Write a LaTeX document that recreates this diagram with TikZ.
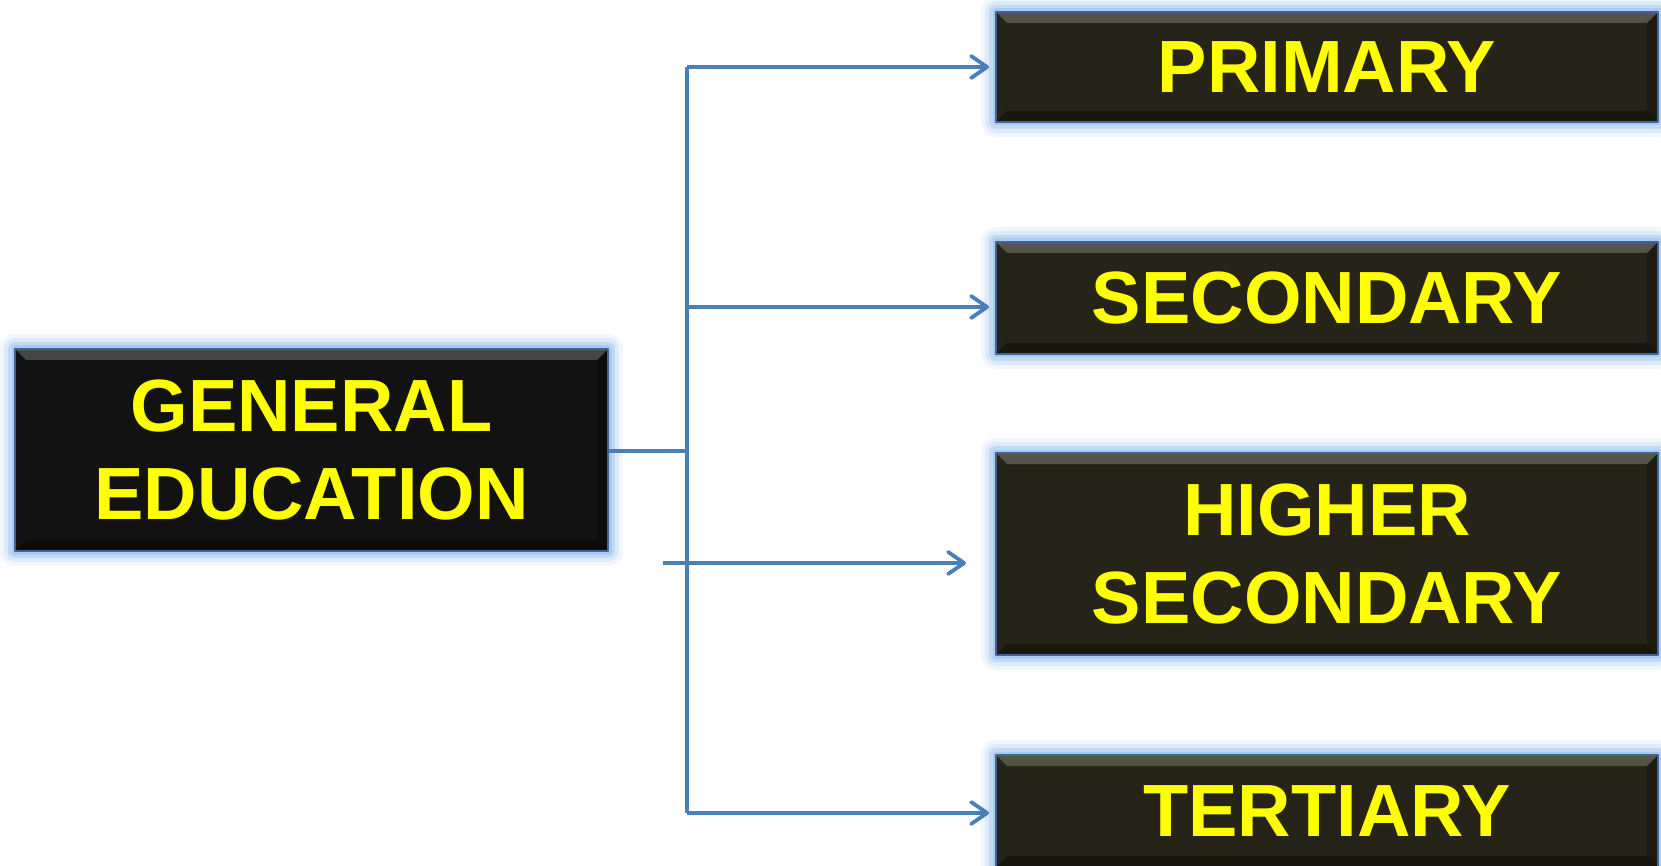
\documentclass[tikz,border=0pt]{standalone}
\usepackage{fontspec}
\setmainfont{Liberation Sans}
\usetikzlibrary{positioning,arrows.meta,calc}
\definecolor{edBlue}{RGB}{74,126,187}
\definecolor{edEdge}{RGB}{65,100,150}
\definecolor{edGlow}{RGB}{160,196,240}
\definecolor{edYellow}{RGB}{255,255,0}
\definecolor{edOlive}{RGB}{38,36,24}
\definecolor{edOliveLt}{RGB}{88,86,72}
\definecolor{edBlack}{RGB}{18,18,18}
\definecolor{edBlackLt}{RGB}{72,72,72}
\tikzset{
    base/.style={font=\bfseries\fontsize{37}{44}\selectfont, align=center, text=edYellow},
    glow/.style={line join=round,
                 preaction={draw=edGlow, line width=15pt, opacity=0.15},
                 preaction={draw=edGlow, line width=11pt, opacity=0.25},
                 preaction={draw=edGlow, line width=7pt, opacity=0.45},
                 preaction={draw=edGlow, line width=3.5pt, opacity=0.7}},
    slab/.style 2 args={base, glow, rectangle, draw=edEdge, line width=1pt, fill=#1,
                 inner sep=0pt, minimum width=331pt,
                 path picture={
                   \shade[top color=#2, bottom color=#1]
                     (path picture bounding box.north west) -- (path picture bounding box.north east)
                     -- ($(path picture bounding box.north east)+(-5.5pt,-5.5pt)$)
                     -- ($(path picture bounding box.north west)+(5.5pt,-5.5pt)$) -- cycle;
                   \fill[black, opacity=0.35]
                     (path picture bounding box.south west) -- (path picture bounding box.south east)
                     -- ($(path picture bounding box.south east)+(-5.5pt,5.5pt)$)
                     -- ($(path picture bounding box.south west)+(5.5pt,5.5pt)$) -- cycle;
                   \fill[black, opacity=0.25]
                     (path picture bounding box.north east) -- (path picture bounding box.south east)
                     -- ($(path picture bounding box.south east)+(-5.5pt,5.5pt)$)
                     -- ($(path picture bounding box.north east)+(-5.5pt,-5.5pt)$) -- cycle;
                 }},
    level/.style={slab={edOlive}{edOliveLt}},
    link/.style={draw=edBlue, line width=1.9pt},
    flow/.style={link, -{Straight Barb[round, length=8pt, width=11pt]}}
}
\begin{document}
\begin{tikzpicture}[x=0.5pt, y=-0.5pt]
  \useasboundingbox (0,0) rectangle (1661,866);

  \node[slab={edBlack}{edBlackLt}, minimum width=296.5pt, minimum height=101pt] (general) at (311.5,450) {GENERAL\\EDUCATION};
  \node[level, minimum height=55pt] (primary) at (1327,67) {PRIMARY};
  \node[level, minimum height=56pt] (secondary) at (1327,298) {SECONDARY};
  \node[level, minimum height=101pt] (higher) at (1327,554) {HIGHER\\SECONDARY};
  \node[level, minimum height=56pt] (tertiary) at (1327,811) {TERTIARY};

  % trunk and branches
  \coordinate (split) at (687,451);
  \coordinate (trunkTop) at (687,67);
  \coordinate (trunkMid) at (687,307);
  \coordinate (trunkBot) at (687,813);
  \coordinate (higherStart) at (663,563);

  \draw[link] (general.east |- split) -- (split);
  \draw[link] (trunkTop) -- (trunkBot);
  \draw[flow, shorten >=3pt] (trunkTop) -- (trunkTop -| primary.west);
  \draw[flow, shorten >=3pt] (trunkMid) -- (trunkMid -| secondary.west);
  \draw[flow, shorten >=14.5pt] (higherStart) -- (higherStart -| higher.west);
  \draw[flow, shorten >=3pt] (trunkBot) -- (trunkBot -| tertiary.west);
\end{tikzpicture}
\end{document}
